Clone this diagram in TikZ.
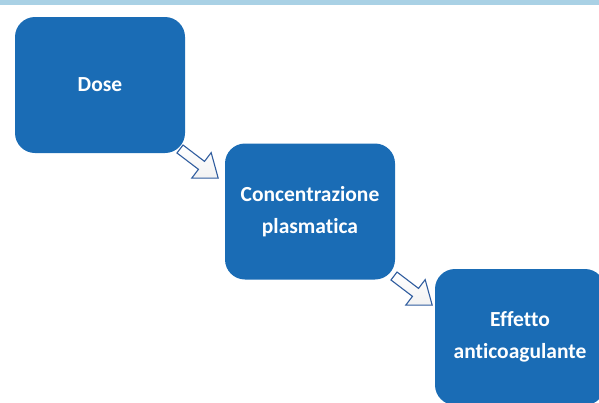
\documentclass[tikz,border=0pt]{standalone}
\usepackage{fontspec}
\setmainfont[Ligatures=NoCommon]{Carlito}
\definecolor{boxblue}{HTML}{1A6CB5}
\definecolor{barblue}{HTML}{A9D1E5}
\definecolor{arrowline}{HTML}{2F5C9E}
\tikzset{
  stepbox/.style={fill=boxblue, draw=none, rounded corners=20pt, minimum width=170pt, minimum height=136pt,
    text=white, align=center, inner sep=0pt, font={\fontsize{21.5}{32}\selectfont\bfseries}},
  blockarrow/.style={draw=arrowline, line width=1.1pt, line join=miter, top color=white, bottom color=black!5}
}
\begin{document}
\begin{tikzpicture}[x=1pt,y=1pt]
\useasboundingbox (0,0) rectangle (599,-402);
\clip (0,0) rectangle (599,-402);
\fill[barblue] (0,0) rectangle (599,-5);
\node[stepbox] (dose) at (100,-85) {Dose};
\node[stepbox] (conc) at (310,-211.5) {Concentrazione\\plasmatica};
\node[stepbox] (eff) at (520,-337) {Effetto\\anticoagulante};
\coordinate (a1) at (180,-149);
\coordinate (a2) at (394,-276);
\draw[blockarrow, shift={(a1)}, rotate=-37.3] (0,5) -- (27,5) -- (27,16) -- (48,0) -- (27,-16) -- (27,-5) -- (0,-5) -- cycle;
\draw[blockarrow, shift={(a2)}, rotate=-37.3] (0,5) -- (27,5) -- (27,16) -- (48,0) -- (27,-16) -- (27,-5) -- (0,-5) -- cycle;
\end{tikzpicture}
\end{document}
